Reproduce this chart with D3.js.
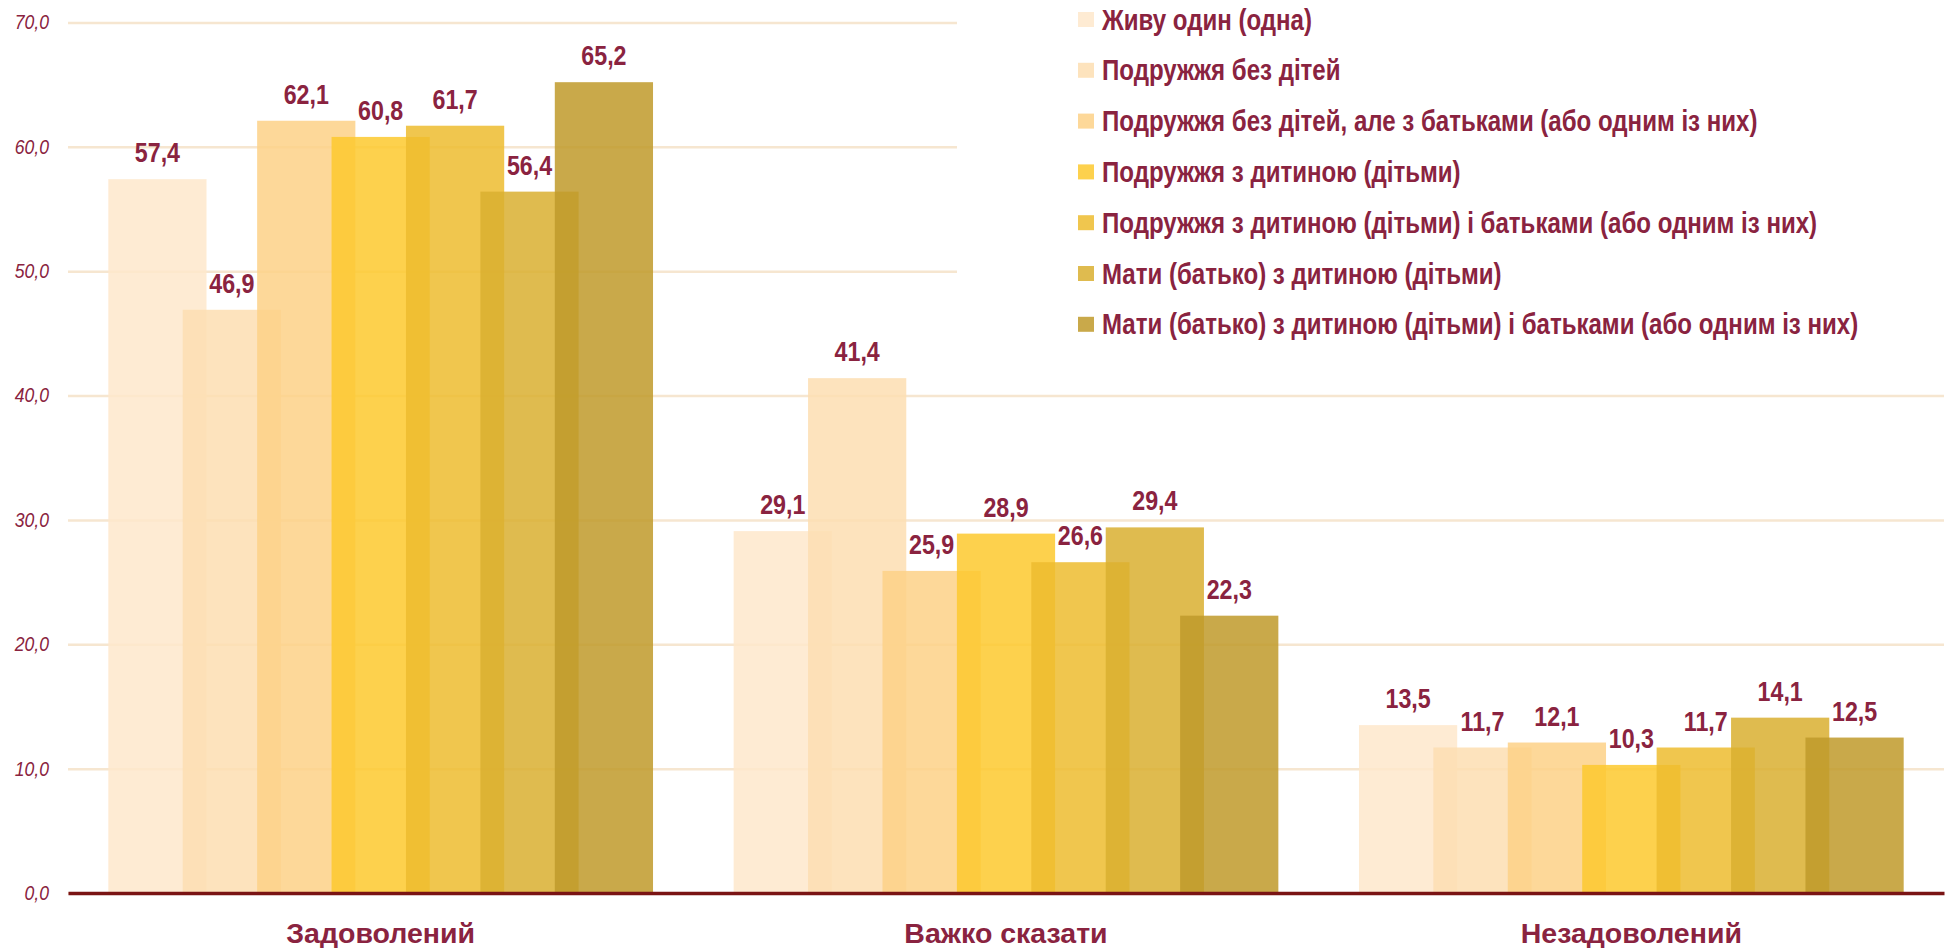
<!DOCTYPE html>
<html>
<head>
<meta charset="utf-8">
<script src="https://cdn.jsdelivr.net/npm/d3@7"></script>
<style>
  html, body { margin: 0; padding: 0; background: #fff; }
  svg { display: block; font-family: 'Liberation Sans', Arial, sans-serif; }
</style>
</head>
<body>
<div id="chart"></div>
<script>
const categories = ['Задоволений', 'Важко сказати', 'Незадоволений']
const seriesNames = [
  'Живу один (одна)',
  'Подружжя без дітей',
  'Подружжя без дітей, але з батьками (або одним із них)',
  'Подружжя з дитиною (дітьми)',
  'Подружжя з дитиною (дітьми) і батьками (або одним із них)',
  'Мати (батько) з дитиною (дітьми)',
  'Мати (батько) з дитиною (дітьми) і батьками (або одним із них)'
]
const livesAlone = [57.4, 29.1, 13.5]
const coupleNoKids = [46.9, 41.4, 11.7]
const coupleNoKidsParents = [62.1, 25.9, 12.1]
const coupleKids = [60.8, 28.9, 10.3]
const coupleKidsParents = [61.7, 26.6, 11.7]
const singleParent = [56.4, 29.4, 14.1]
const singleParentParents = [65.2, 22.3, 12.5]
const seriesValues = [livesAlone, coupleNoKids, coupleNoKidsParents, coupleKids, coupleKidsParents, singleParent, singleParentParents]
const yTicks = [0, 10, 20, 30, 40, 50, 60, 70]

const colors = ['#FEE7CB', '#FDDEB1', '#FDD187', '#FDC92E', '#EDBC2F', '#D9AF30', '#C09A2A']
const textColor = '#8A2340'
const narrow = 0.83 // the source font is a condensed bold, squeeze Liberation Sans to match

const width = 1955
const height = 948
const margin = { top: 22.5, right: 11, bottom: 55, left: 68 }

const svg = d3.select('#chart').append('svg')
  .attr('width', width)
  .attr('height', height)

const x0 = d3.scaleBand()
  .domain(categories)
  .range([margin.left, width - margin.right])

const y = d3.scaleLinear()
  .domain([0, 70])
  .range([height - margin.bottom, margin.top])

const step = x0.bandwidth() * 0.119
const barW = step * 1.32
const x1 = d3.scalePoint().domain(seriesNames).range([0, 6 * step])
const groupOffset = (x0.bandwidth() - 6 * step - barW) / 2
const barX = d => x0(d.cat) + groupOffset + x1(d.name)

// gridlines + y labels
const yAxis = svg.append('g')
  .attr('transform', `translate(${margin.left},0)`)
  .call(d3.axisLeft(y)
    .tickValues(yTicks)
    .tickFormat(d => d.toFixed(1).replace('.', ','))
    .tickSize(-(width - margin.left - margin.right)))
yAxis.select('.domain').remove()
yAxis.selectAll('line').attr('stroke', '#F6E6D0').attr('stroke-width', 2.5)
yAxis.selectAll('text')
  .attr('x', 0)
  .attr('transform', 'translate(-19,0) scale(0.88,1)')
  .attr('fill', textColor)
  .attr('font-size', 20)
  .attr('font-style', 'italic')
  .attr('font-family', "'Liberation Sans', Arial, sans-serif")

// legend background hides the gridlines behind it
const legendX = 1078
svg.append('rect')
  .attr('x', 957).attr('y', 0)
  .attr('width', width - 957).attr('height', 355)
  .attr('fill', '#fff')

// bars
const series = svg.append('g').selectAll('g.series')
  .data(seriesNames.map((name, i) => ({ name, i, values: seriesValues[i] })))
  .join('g')
  .attr('class', 'series')

series.selectAll('rect')
  .data(s => s.values.map((v, ci) => ({ v, cat: categories[ci], name: s.name, i: s.i })))
  .join('rect')
  .attr('x', barX)
  .attr('y', d => y(d.v))
  .attr('width', barW)
  .attr('height', d => y(0) - y(d.v))
  .attr('fill', d => colors[d.i])
  .attr('fill-opacity', 0.85)

// value labels
series.selectAll('text')
  .data(s => s.values.map((v, ci) => ({ v, cat: categories[ci], name: s.name })))
  .join('text')
  .attr('transform', d => `translate(${barX(d) + barW / 2},${y(d.v) - 17}) scale(${narrow},1)`)
  .attr('text-anchor', 'middle')
  .attr('font-size', 28)
  .attr('font-weight', 'bold')
  .attr('fill', textColor)
  .text(d => d.v.toFixed(1).replace('.', ','))

// x axis
const xAxis = svg.append('g')
  .attr('transform', `translate(0,${y(0)})`)
  .call(d3.axisBottom(x0).tickSize(0).tickSizeOuter(0).tickPadding(30))
xAxis.select('.domain').attr('stroke', '#7A1414').attr('stroke-width', 3.5)
xAxis.selectAll('text')
  .attr('fill', textColor)
  .attr('font-size', 28.5)
  .attr('font-weight', 'bold')
  .attr('font-family', "'Liberation Sans', Arial, sans-serif")

// legend
const legend = svg.append('g').selectAll('g.item')
  .data(seriesNames)
  .join('g')
  .attr('class', 'item')
  .attr('transform', (d, i) => `translate(${legendX},${19.5 + i * 50.8})`)

legend.append('rect')
  .attr('x', 0).attr('y', -7.5)
  .attr('width', 16).attr('height', 15)
  .attr('fill', (d, i) => colors[i])
  .attr('fill-opacity', 0.85)

legend.append('text')
  .attr('transform', `translate(24,0) scale(${narrow},1)`)
  .attr('dy', '0.35em')
  .attr('font-size', 29)
  .attr('font-weight', 'bold')
  .attr('fill', textColor)
  .text(d => d)
</script>
</body>
</html>
